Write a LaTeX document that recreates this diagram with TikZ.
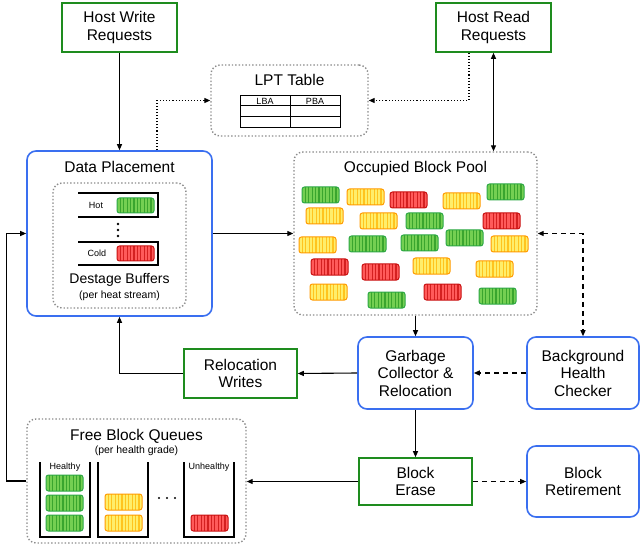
\documentclass[tikz,border=0pt]{standalone}
\usepackage{fontspec}
\setmainfont{Liberation Sans}
\usetikzlibrary{arrows.meta}

\definecolor{gfill}{HTML}{74CF52}
\definecolor{gdark}{HTML}{3AA52E}
\definecolor{gline}{HTML}{2CA845}
\definecolor{yfill}{HTML}{FFEE6A}
\definecolor{ydark}{HTML}{FFC41E}
\definecolor{yline}{HTML}{FF9A00}
\definecolor{rfill}{HTML}{FF5A5A}
\definecolor{rdark}{HTML}{D42020}
\definecolor{rline}{HTML}{C81010}
\definecolor{boxgreen}{HTML}{1E8C1E}
\definecolor{boxblue}{HTML}{3A6FF0}

\newcommand{\lblfont}{\fontsize{15.5}{17.5}\selectfont}
\newcommand{\subfont}{\fontsize{10.5}{12}\selectfont}
\newcommand{\tinyfont}{\fontsize{9}{10}\selectfont}

\tikzset{
  stripes/.style={path picture={\foreach \s in {1,...,10}
    \draw[#1, line width=1.2pt] ([xshift=\s*3.4pt]path picture bounding box.north west) -- ([xshift=\s*3.4pt]path picture bounding box.south west);}},
  blkG/.style={fill=gfill, draw=gline, line width=1pt, rounded corners=2.5pt, stripes=gdark},
  blkY/.style={fill=yfill, draw=yline, line width=1pt, rounded corners=2.5pt, stripes=ydark},
  blkR/.style={fill=rfill, draw=rline, line width=1pt, rounded corners=2.5pt, stripes=rdark},
}

\begin{document}
\begin{tikzpicture}[x=1pt, y=-1pt,
  greenbox/.style={draw=boxgreen, line width=1.6pt, fill=white, align=center, font=\lblfont, inner sep=0pt},
  bluebox/.style={draw=boxblue, line width=1.6pt, rounded corners=9pt, fill=white, align=center, font=\lblfont, inner sep=0pt},
  groupbox/.style={draw=gray!90, line width=1.4pt, dash pattern=on 1.4pt off 2pt, rounded corners=9pt, inner sep=0pt},
  flow/.style={line width=1.1pt, -{Triangle[length=6pt,width=5pt]}},
  flowboth/.style={line width=1.1pt, {Triangle[length=6pt,width=5pt]}-{Triangle[length=6pt,width=5pt]}},
  longdash/.style={dash pattern=on 5pt off 4pt},
  holder/.style={line width=1.5pt, line join=miter}]
  \useasboundingbox (0,0) rectangle (640,556);

  \node[greenbox, minimum width=115pt, minimum height=49pt] (hwr) at (119.5,27.5) {Host Write\\Requests};
  \node[greenbox, minimum width=115pt, minimum height=49pt] (hrr) at (493.5,27.5) {Host Read\\Requests};

  \node[groupbox, minimum width=157pt, minimum height=71pt] (lpt) at (289.5,100.5) {};
  \node[font=\lblfont] (lpttitle) at (289.5,80) {LPT Table};
  \draw[line width=1pt] (240,96) rectangle (340,128);
  \draw[line width=1pt] (240,106) -- (340,106);
  \draw[line width=1pt] (240,117) -- (340,117);
  \draw[line width=1pt] (290,96) -- (290,128);
  \node[font=\tinyfont] (lba) at (265,101.5) {LBA};
  \node[font=\tinyfont] (pba) at (315,101.5) {PBA};

  \node[bluebox, minimum width=185pt, minimum height=165pt] (dp) at (119.5,233.5) {};
  \node[font=\lblfont] (dptitle) at (119.5,167) {Data Placement};
  \node[groupbox, minimum width=133pt, minimum height=125pt] (dsb) at (119.5,245.5) {};
  \draw[holder] (78,193) -- (158,193) -- (158,217) -- (78,217);
  \node[font=\tinyfont] (hot) at (96,205) {Hot};
  \draw[blkG] (117,198) rectangle ++(37,15);
  \fill (118,224) circle (1.3pt);
  \fill (118,230) circle (1.3pt);
  \fill (118,236) circle (1.3pt);
  \draw[holder] (78,242) -- (158,242) -- (158,265) -- (78,265);
  \node[font=\tinyfont] (cold) at (97,253.5) {Cold};
  \draw[blkR] (117,246) rectangle ++(37,15);
  \node[font=\fontsize{14}{16}\selectfont] (dsbtitle) at (119.5,280) {Destage Buffers};
  \node[font=\subfont] (dsbsub) at (119.5,295.5) {(per heat stream)};

  \node[groupbox, minimum width=243pt, minimum height=163pt] (obp) at (415.5,233.5) {};
  \node[font=\lblfont] (obptitle) at (415.5,168) {Occupied Block Pool};
  \draw[blkG] (302,187) rectangle ++(37,16);
  \draw[blkY] (347,189) rectangle ++(37,16);
  \draw[blkR] (390,192) rectangle ++(37,16);
  \draw[blkY] (443,193) rectangle ++(37,16);
  \draw[blkG] (487,184) rectangle ++(37,16);
  \draw[blkY] (306,208) rectangle ++(37,16);
  \draw[blkY] (360,213) rectangle ++(37,16);
  \draw[blkG] (406,213) rectangle ++(37,16);
  \draw[blkR] (483,213) rectangle ++(37,16);
  \draw[blkY] (299,237) rectangle ++(37,16);
  \draw[blkG] (349,236) rectangle ++(37,16);
  \draw[blkG] (401,235) rectangle ++(37,16);
  \draw[blkG] (446,230) rectangle ++(37,16);
  \draw[blkY] (491,236) rectangle ++(37,16);
  \draw[blkR] (311,259) rectangle ++(37,16);
  \draw[blkR] (362,264) rectangle ++(37,16);
  \draw[blkY] (413,258) rectangle ++(37,16);
  \draw[blkY] (476,261) rectangle ++(37,16);
  \draw[blkY] (310,284) rectangle ++(37,16);
  \draw[blkG] (368,292) rectangle ++(37,16);
  \draw[blkR] (424,284) rectangle ++(37,16);
  \draw[blkG] (479,288) rectangle ++(37,16);

  \node[bluebox, minimum width=115pt, minimum height=72pt] (gc) at (415.5,373) {Garbage\\Collector \&\\Relocation};
  \node[bluebox, minimum width=112pt, minimum height=72pt] (bhc) at (583,373) {Background\\Health\\Checker};
  \node[greenbox, minimum width=113pt, minimum height=49pt] (rw) at (240.5,373.5) {Relocation\\Writes};
  \node[greenbox, minimum width=113pt, minimum height=47pt] (be) at (415.5,481.5) {Block\\Erase};
  \node[bluebox, minimum width=112pt, minimum height=71pt] (br) at (583,481.5) {Block\\Retirement};

  \node[groupbox, minimum width=219pt, minimum height=124pt] (fbq) at (136.5,481) {};
  \node[font=\lblfont] (fbqtitle) at (136.5,436) {Free Block Queues};
  \node[font=\subfont] (fbqsub) at (136.5,450.5) {(per health grade)};
  \draw[holder] (40,462) -- (40,537) -- (90,537) -- (90,462);
  \draw[holder] (98,462) -- (98,537) -- (148,537) -- (148,462);
  \draw[holder] (184,462) -- (184,537) -- (234,537) -- (234,462);
  \node[font=\tinyfont] (healthy) at (65,467) {Healthy};
  \node[font=\tinyfont] (unhealthy) at (209,467) {Unhealthy};
  \draw[blkG] (46,475) rectangle ++(37,16);
  \draw[blkG] (46,495) rectangle ++(37,16);
  \draw[blkG] (46,515) rectangle ++(37,16);
  \draw[blkY] (105,494) rectangle ++(37,16);
  \draw[blkY] (105,515) rectangle ++(37,16);
  \draw[blkR] (191,515) rectangle ++(37,16);
  \fill (159,498) circle (1.2pt);
  \fill (167,498) circle (1.2pt);
  \fill (175,498) circle (1.2pt);

  \draw[flow] (hwr.south) -- (dp.north);
  \draw[flow, dotted] ([xshift=37.5pt]dp.north) |- (lpt.west);
  \draw[flow, dotted] ([xshift=-24.5pt]hrr.south) |- (lpt.east);
  \draw[flowboth] (hrr.south) -- (hrr.south |- obp.north);
  \draw[flow] (dp.east) -- (obp.west);
  \draw[flow] (obp.south) -- (gc.north);
  \draw[flowboth, longdash] (obp.east) -| (bhc.north);
  \draw[flow, longdash] (bhc.west) -- (gc.east);
  \draw[flow] (gc.west) -- (rw.east);
  \draw[flow] (rw.west) -| (dp.south);
  \draw[flow] (gc.south) -- (be.north);
  \draw[flow, longdash] (be.east) -- (br.west);
  \draw[flow] (be.west) -- (be.west -| fbq.east);
  \draw[flow] (fbq.west) -- ++(-20,0) |- (dp.west);
\end{tikzpicture}
\end{document}
